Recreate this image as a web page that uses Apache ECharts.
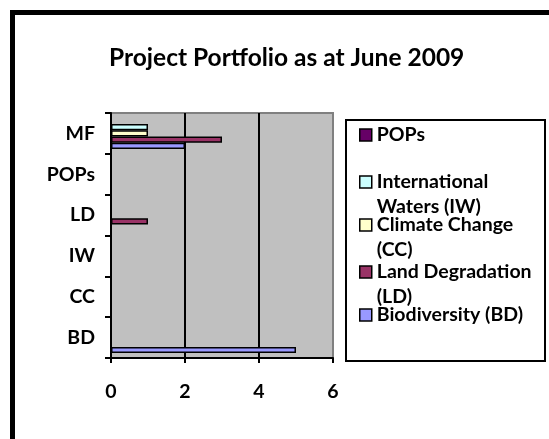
<!DOCTYPE html>
<html>
<head>
<meta charset="utf-8">
<script src="https://cdn.jsdelivr.net/npm/echarts@6/dist/echarts.min.js"></script>
<style>html,body{margin:0;padding:0;background:#fff}#c{width:549px;height:439px}</style>
</head>
<body>
<div id="c"></div>
<script>
var titleText = 'Project Portfolio as at June 2009';
var categories = ['BD', 'CC', 'IW', 'LD', 'POPs', 'MF'];
var seriesNames = ['POPs', 'International Waters (IW)', 'Climate Change (CC)', 'Land Degradation (LD)', 'Biodiversity (BD)'];
var popsValues = [0, 0, 0, 0, 0, 0];
var iwValues = [0, 0, 0, 0, 0, 1];
var ccValues = [0, 0, 0, 0, 0, 1];
var ldValues = [0, 0, 0, 1, 0, 3];
var bdValues = [5, 0, 0, 0, 0, 2];
var xTicks = [0, 2, 4, 6];

var colors = ['#660066', '#CCFFFF', '#FFFFCC', '#993366', '#9999FF'];
var values = [popsValues, iwValues, ccValues, ldValues, bdValues];
var FONT = 'Lato';
var LH = 25;

var chart = echarts.init(document.getElementById('c'), null, {renderer: 'canvas'});

// first-line centre of each legend entry (px)
var legendCentres = [135, 182, 225, 272, 315];
var legendWrapped = [false, true, true, true, false];
var legends = seriesNames.map(function (n, i) {
  var wrapped = legendWrapped[i];
  return {
    data: [n],
    orient: 'vertical',
    left: 359,
    top: legendCentres[i] - (wrapped ? 1.5 * LH : 0.5 * LH),
    padding: 0,
    icon: 'rect',
    itemWidth: 12,
    itemHeight: 12,
    selectedMode: false,
    itemStyle: {borderColor: '#000', borderWidth: 1.5},
    formatter: function (name) { return wrapped ? '\n' + name : name; },
    textStyle: {
      fontFamily: FONT, fontWeight: 'bold', fontSize: 19.5, color: '#000',
      lineHeight: LH, width: 162, overflow: 'break'
    }
  };
});

var option = {
  animation: false,
  backgroundColor: '#fff',
  title: {
    text: titleText,
    left: 109,
    top: 46,
    padding: 0,
    textStyle: {fontFamily: FONT, fontWeight: 'bold', fontSize: 24.5, color: '#000'}
  },
  graphic: [
    {type: 'rect', z: -10, shape: {x: 12.5, y: 12.5, width: 700, height: 700}, style: {fill: 'none', stroke: '#000', lineWidth: 5}},
    {type: 'rect', z: -5, shape: {x: 346, y: 120, width: 199, height: 241}, style: {fill: '#fff', stroke: '#000', lineWidth: 2}}
  ],
  legend: legends,
  grid: {
    left: 111, top: 113, width: 222, height: 245,
    show: true, backgroundColor: '#C0C0C0', borderColor: '#808080', borderWidth: 2
  },
  xAxis: {
    type: 'value', min: 0, max: 6, interval: 2,
    axisLine: {show: true, lineStyle: {color: '#000', width: 2}},
    axisTick: {show: true, inside: false, length: 5, lineStyle: {color: '#000', width: 2}},
    splitLine: {show: true, showMinLine: false, showMaxLine: false, lineStyle: {color: '#000', width: 2}},
    axisLabel: {margin: 24, fontFamily: FONT, fontWeight: 'bold', fontSize: 19.5, color: '#000',
      formatter: function (v) { return xTicks.indexOf(v) >= 0 ? String(v) : ''; }}
  },
  yAxis: {
    type: 'category', data: categories,
    axisLine: {show: true, lineStyle: {color: '#000', width: 2}},
    axisTick: {show: true, inside: false, length: 6, lineStyle: {color: '#000', width: 2}},
    splitLine: {show: false},
    axisLabel: {margin: 16, fontFamily: FONT, fontWeight: 'bold', fontSize: 19.5, color: '#000'}
  },
  series: seriesNames.map(function (n, i) {
    return {
      name: n, type: 'bar', data: values[i],
      barGap: '0%', barCategoryGap: '24%',
      itemStyle: {color: colors[i], borderColor: '#000', borderWidth: 1.5}
    };
  })
};
chart.setOption(option);
</script>
</body>
</html>
